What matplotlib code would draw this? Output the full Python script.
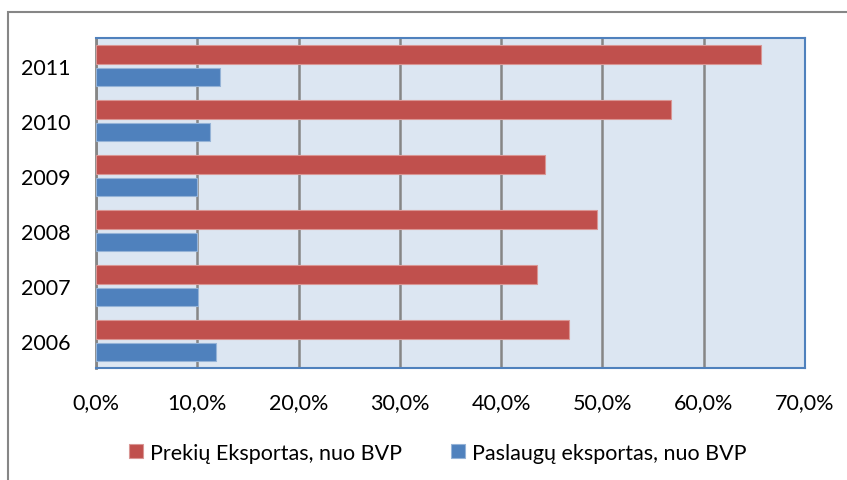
import matplotlib.pyplot as plt
import numpy as np
from matplotlib.patches import Rectangle
from matplotlib.ticker import FuncFormatter

years = ['2006', '2007', '2008', '2009', '2010', '2011']
prekiu = [46.7, 43.5, 49.5, 44.3, 56.8, 65.7]
paslaugu = [11.9, 10.1, 9.95, 9.95, 11.3, 12.2]
labels = ['Prekių Eksportas, nuo BVP', 'Paslaugų eksportas, nuo BVP']

plt.rcParams['font.family'] = ['Lato', 'DejaVu Sans']

fig = plt.figure(figsize=(8.47, 4.81), dpi=100)
ax = fig.add_axes([0.1133, 0.2322, 0.8371, 0.6861])

# outer chart frame
fig.patches.append(Rectangle((8 / 847, -0.1), 1.2, 1 - 13 / 481 + 0.1,
                             transform=fig.transFigure, fill=False,
                             edgecolor='#868686', linewidth=1.5))

y = np.arange(len(years))
h = 0.33
ax.barh(y + 0.205, prekiu, height=h, color='#C0504D', edgecolor='#D99694',
        linewidth=0.8, label=labels[0], zorder=3)
ax.barh(y - 0.205, paslaugu, height=h, color='#4F81BD', edgecolor='#95B3D7',
        linewidth=0.8, label=labels[1], zorder=3)

ax.set_facecolor('#DCE6F2')
ax.set_xlim(0, 70)
ax.set_ylim(-0.5, 5.5)
ax.set_xticks(np.arange(0, 71, 10))
ax.xaxis.set_major_formatter(FuncFormatter(lambda v, p: f'{v:.1f}%'.replace('.', ',')))
ax.set_yticks(y)
ax.set_yticklabels(years)
ax.tick_params(axis='both', length=0, labelsize=15.5)
ax.tick_params(axis='x', pad=17)
ax.tick_params(axis='y', pad=18)
ax.grid(axis='x', color='#868686', linewidth=1.8, zorder=1)
ax.set_axisbelow(True)

for s in ['top', 'right', 'bottom']:
    ax.spines[s].set_color('#4F81BD')
    ax.spines[s].set_linewidth(1.5)
ax.spines['left'].set_color('#868686')
ax.spines['left'].set_linewidth(2)

handles, labs = ax.get_legend_handles_labels()
fig.legend(handles, labs, loc='center', bbox_to_anchor=(0.517, 0.057), ncol=2,
           frameon=False, fontsize=15.5, handlelength=0.65, handleheight=0.65,
           handletextpad=0.3, columnspacing=2.3)

plt.savefig('out.png', dpi=100)
